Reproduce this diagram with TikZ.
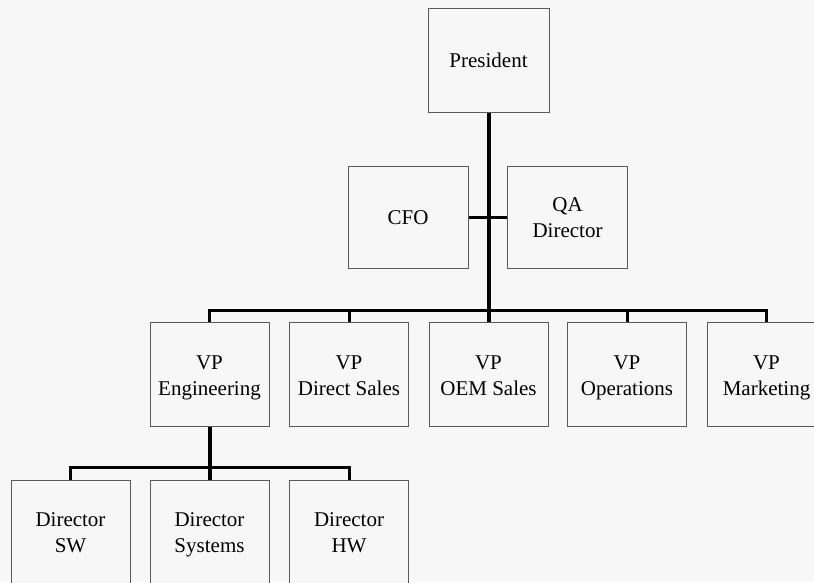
\documentclass[tikz,border=0pt]{standalone}
\usepackage{fontspec}
\setmainfont{Liberation Serif}
\definecolor{bg}{HTML}{F7F7F7}
\definecolor{boxline}{HTML}{5A5A5A}
\newcommand\ls{\rule[-5pt]{0pt}{25.5pt}}
\begin{document}
\begin{tikzpicture}[x=1pt,y=-1pt,
  box/.style={draw=boxline,line width=1pt,fill=bg,rectangle,minimum width=119pt,minimum height=104pt,
    align=center,inner sep=0pt,font=\fontsize{21}{26}\selectfont},
  trunk/.style={line width=4pt,black},
  bus/.style={line width=3pt,black,line join=miter}]
\fill[bg] (0,0) rectangle (814,582);
\useasboundingbox (0,0) rectangle (814,582);
\node[box,minimum width=121pt] (pres) at (488.5,60) {\ls President};
\node[box,minimum width=120pt,minimum height=102pt] (cfo) at (408,217) {\ls CFO};
\node[box,minimum width=120pt,minimum height=102pt] (qa) at (567.5,217) {\ls QA\\\ls Director};
\node[box] (eng) at (209.5,374.5) {\ls VP\\\ls Engineering};
\node[box] (ds) at (349,374.5) {\ls VP\\\ls Direct Sales};
\node[box] (oem) at (488.5,374.5) {\ls VP\\\ls OEM Sales};
\node[box] (ops) at (627,374.5) {\ls VP\\\ls Operations};
\node[box] (mkt) at (766.5,374.5) {\ls VP\\\ls Marketing};
\node[box] (dsw) at (70.5,532) {\ls Director\\\ls SW};
\node[box] (dsys) at (209.5,532) {\ls Director\\\ls Systems};
\node[box] (dhw) at (349,532) {\ls Director\\\ls HW};
\coordinate (vbus) at (488.5,310.5);
\coordinate (dbus) at (209.5,467.5);
% president trunk
\draw[trunk] (pres.south) -- (oem.north);
\draw[bus] (cfo.east) -- (qa.west);
% VP bus
\draw[bus] (eng.north) -- (eng.north |- vbus) -- (mkt.north |- vbus) -- (mkt.north);
\draw[bus] (ds.north) -- (ds.north |- vbus);
\draw[bus] (ops.north) -- (ops.north |- vbus);
% Engineering trunk
\draw[trunk] (eng.south) -- (dsys.north);
\draw[bus] (dsw.north) -- (dsw.north |- dbus) -- (dhw.north |- dbus) -- (dhw.north);
\end{tikzpicture}
\end{document}
